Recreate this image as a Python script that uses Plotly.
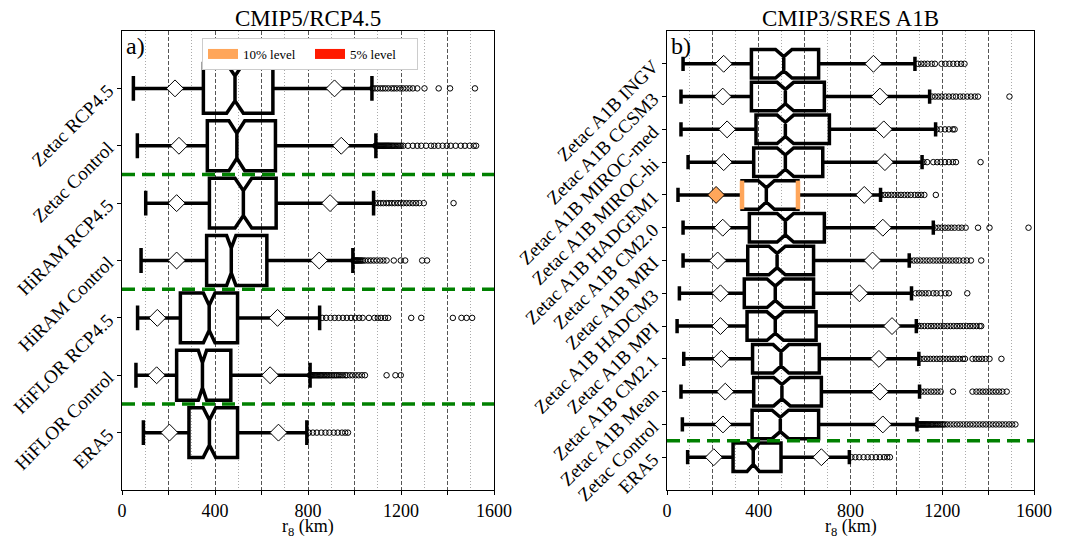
import plotly.graph_objects as go

# ---------------- Panel a: CMIP5/RCP4.5 ----------------
cats_a = ["Zetac RCP4.5", "Zetac Control", "HiRAM RCP4.5", "HiRAM Control",
          "HiFLOR RCP4.5", "HiFLOR Control", "ERA5"]
groups_a = ["Zetac", "Zetac", "HiRAM", "HiRAM", "HiFLOR", "HiFLOR", "ERA5"]
lo_a = [49, 66, 102, 82, 67, 60, 92]
plo_a = [228, 245, 235, 235, 152, 149, 204]
q1_a = [350, 367, 376, 364, 251, 235, 288]
med_a = [486, 494, 522, 470, 375, 346, 376]
notch_a = [36, 34, 36, 20, 25, 18, 27]
q3_a = [649, 660, 663, 623, 497, 468, 497]
phi_a = [914, 943, 895, 848, 669, 637, 673]
hi_a = [1075, 1092, 1082, 993, 850, 809, 795]
boxsig_a = [0, 0, 0, 0, 0, 0, 0]
plosig_a = [0, 0, 0, 0, 0, 0, 0]
phisig_a = [0, 0, 0, 0, 0, 0, 0]
out_a = [
    [1077, 1088, 1099, 1111, 1122, 1133, 1145, 1159, 1170, 1182, 1196, 1209, 1223, 1237, 1251,
     1270, 1301, 1362, 1411, 1518],
    [1090, 1094, 1098, 1102, 1106, 1110, 1114, 1118, 1122, 1126, 1130, 1134, 1138, 1142, 1146,
     1150, 1155, 1160, 1165, 1170, 1176, 1182, 1188, 1195, 1201, 1210, 1230, 1251, 1270, 1287,
     1308, 1329, 1343, 1360, 1379, 1397, 1414, 1435, 1457, 1475, 1495, 1513, 1523],
    [1088, 1102, 1113, 1124, 1137, 1148, 1161, 1173, 1187, 1199, 1211, 1224, 1237, 1251, 1265,
     1279, 1298, 1426],
    [995, 999, 1003, 1007, 1011, 1015, 1020, 1025, 1030, 1036, 1045, 1058, 1070, 1083, 1096,
     1110, 1124, 1138, 1169, 1199, 1218, 1291, 1312],
    [861, 878, 897, 915, 932, 950, 967, 985, 1003, 1020, 1035, 1062, 1086, 1100, 1114, 1131,
     1145, 1244, 1287, 1423, 1460, 1482, 1506],
    [808, 812, 816, 820, 825, 830, 835, 840, 845, 850, 855, 860, 866, 872, 878, 884, 890, 897,
     904, 911, 918, 925, 933, 941, 950, 960, 967, 980, 992, 1005, 1018, 1032, 1045, 1138, 1176,
     1199],
    [804, 821, 838, 857, 875, 892, 911, 928, 946, 960, 972],
]

# ---------------- Panel b: CMIP3/SRES A1B ----------------
cats_b = ["Zetac A1B INGV", "Zetac A1B CCSM3", "Zetac A1B MIROC-med", "Zetac A1B MIROC-hi",
          "Zetac A1B HADGEM1", "Zetac A1B CM2.0", "Zetac A1B MRI", "Zetac A1B HADCM3",
          "Zetac A1B MPI", "Zetac A1B CM2.1", "Zetac A1B Mean", "Zetac Control", "ERA5"]
groups_b = ["Zetac"] * 12 + ["ERA5"]
lo_b = [70, 61, 61, 92, 48, 70, 70, 54, 44, 73, 61, 67, 90]
plo_b = [247, 243, 262, 247, 214, 243, 221, 233, 233, 237, 254, 244, 204]
q1_b = [368, 368, 388, 378, 327, 359, 352, 337, 349, 373, 378, 371, 288]
med_b = [509, 516, 516, 516, 433, 516, 480, 472, 472, 497, 501, 494, 376]
notch_b = [36, 36, 36, 36, 35, 36, 36, 36, 36, 34, 36, 36, 27]
q3_b = [661, 686, 708, 679, 571, 686, 639, 639, 650, 664, 673, 661, 497]
phi_b = [900, 928, 945, 950, 860, 941, 896, 839, 981, 924, 928, 941, 673]
hi_b = [1081, 1145, 1171, 1112, 931, 1161, 1056, 1066, 1087, 1098, 1101, 1090, 795]
boxsig_b = [0, 0, 0, 0, 10, 0, 0, 0, 0, 0, 0, 0, 0]
plosig_b = [0, 0, 0, 0, 10, 0, 0, 0, 0, 0, 0, 0, 0]
phisig_b = [0] * 13
out_b = [
    [1094, 1108, 1122, 1136, 1154, 1168, 1197, 1214, 1231, 1248, 1265, 1282, 1297],
    [1155, 1169, 1183, 1197, 1214, 1229, 1246, 1260, 1278, 1292, 1309, 1325, 1342, 1356, 1493],
    [1176, 1193, 1212, 1229, 1246, 1254],
    [1118, 1134, 1161, 1178, 1193, 1212, 1229, 1246, 1260, 1367],
    [935, 950, 964, 978, 992, 1006, 1020, 1035, 1049, 1063, 1080, 1094, 1108, 1122, 1172],
    [1169, 1183, 1197, 1212, 1226, 1240, 1254, 1271, 1285, 1302, 1356, 1406, 1576],
    [1061, 1076, 1090, 1104, 1118, 1132, 1146, 1161, 1175, 1189, 1203, 1217, 1231, 1245, 1260,
     1274, 1292, 1307, 1325, 1370],
    [1084, 1098, 1112, 1127, 1141, 1161, 1175, 1193, 1214, 1229, 1309],
    [1094, 1108, 1122, 1137, 1151, 1165, 1179, 1193, 1207, 1222, 1236, 1250, 1264, 1278, 1292,
     1307, 1321, 1335, 1349, 1363, 1370],
    [1105, 1120, 1134, 1148, 1162, 1176, 1190, 1205, 1219, 1233, 1247, 1261, 1275, 1290, 1299,
     1332, 1346, 1360, 1374, 1389, 1406, 1458],
    [1108, 1122, 1136, 1151, 1165, 1179, 1193, 1247, 1332, 1349, 1363, 1377, 1391, 1406, 1420,
     1434, 1448, 1462, 1481],
    [1092, 1096, 1100, 1104, 1108, 1112, 1116, 1120, 1124, 1128, 1132, 1136, 1140, 1145, 1150,
     1155, 1160, 1166, 1172, 1178, 1184, 1190, 1197, 1204, 1211, 1222, 1236, 1250, 1264, 1278,
     1292, 1307, 1321, 1335, 1349, 1363, 1377, 1391, 1406, 1420, 1434, 1448, 1462, 1476, 1491,
     1505, 1519],
    [804, 821, 838, 857, 875, 892, 911, 928, 946, 960, 972],
]

xtick_vals = [0, 200, 400, 600, 800, 1000, 1200, 1400, 1600]
xtick_text = ["0", "", "400", "", "800", "", "1200", "", "1600"]

# ---------------- styling ----------------
FONT = "Liberation Serif"
ORANGE = "#ffa65a"
RED = "#ff1a00"
SIGCOL = {0: "black", 10: ORANGE, 5: RED}
DIAFILL = {0: "white", 10: ORANGE, 5: RED}
BOXW = 0.87

fig = go.Figure()


def add_panel(xa, ya, cats, groups, lo, plo, q1, med, notch, q3, phi, hi,
              boxsig, plosig, phisig, outs):
    n = len(cats)
    pos = [n - i for i in range(n)]
    xr = "x" if xa == 1 else "x%d" % xa
    yr = "y" if ya == 1 else "y%d" % ya
    fig.add_trace(go.Box(
        orientation="h", y=pos, q1=q1, median=med, q3=q3,
        lowerfence=lo, upperfence=hi, notched=True, notchspan=notch,
        notchwidth=0.25, width=BOXW, whiskerwidth=0.5, boxpoints=False,
        line=dict(color="black", width=3.5), fillcolor="rgba(0,0,0,0)",
        xaxis=xr, yaxis=yr, showlegend=False, hoverinfo="skip"))
    for i in range(n):
        if boxsig[i]:
            for v in (q1[i], q3[i]):
                fig.add_trace(go.Scatter(
                    x=[v, v], y=[pos[i] - BOXW / 2, pos[i] + BOXW / 2], mode="lines",
                    line=dict(color=SIGCOL[boxsig[i]], width=4.5),
                    xaxis=xr, yaxis=yr, showlegend=False, hoverinfo="skip"))
    fig.add_trace(go.Scatter(
        x=plo + phi, y=pos + pos, mode="markers",
        marker=dict(symbol="diamond", size=13,
                    color=[DIAFILL[s] for s in plosig] + [DIAFILL[s] for s in phisig],
                    line=dict(color="black", width=1)),
        xaxis=xr, yaxis=yr, showlegend=False, hoverinfo="skip"))
    ox, oy = [], []
    for i in range(n):
        ox += outs[i]
        oy += [pos[i]] * len(outs[i])
    fig.add_trace(go.Scatter(
        x=ox, y=oy, mode="markers",
        marker=dict(symbol="circle-open", size=5.5, color="black", line=dict(width=1)),
        xaxis=xr, yaxis=yr, showlegend=False, hoverinfo="skip"))
    for i in range(1, n):
        if groups[i] != groups[i - 1]:
            yb = (pos[i] + pos[i - 1]) / 2
            fig.add_shape(type="line", xref="%s domain" % xr, yref=yr,
                          x0=0, x1=1, y0=yb, y1=yb,
                          line=dict(color="#008000", width=3.5, dash="13px,7px"))
    return pos


pos_a = add_panel(1, 1, cats_a, groups_a, lo_a, plo_a, q1_a, med_a, notch_a, q3_a,
                  phi_a, hi_a, boxsig_a, plosig_a, phisig_a, out_a)
pos_b = add_panel(2, 2, cats_b, groups_b, lo_b, plo_b, q1_b, med_b, notch_b, q3_b,
                  phi_b, hi_b, boxsig_b, plosig_b, phisig_b, out_b)

for name, col in (("10% level", ORANGE), ("5% level", RED)):
    fig.add_trace(go.Scatter(x=[None], y=[None], mode="lines", name=name,
                             line=dict(color=col, width=10), xaxis="x", yaxis="y"))

# page body has an 8px margin: work in page pixels minus 8
OFF = 8
W, H = 1059, 530


def fx(px):
    return (px - OFF) / W


def fy(py):
    return 1 - (py - OFF) / H


dom_y = [fy(490), fy(31)]


def xaxis(dom, anchor):
    return dict(domain=dom, anchor=anchor, range=[0, 1600], tickmode="array",
                tickvals=xtick_vals, ticktext=xtick_text, ticks="outside", ticklen=4,
                tickcolor="black", showline=True, linecolor="black", linewidth=1.2,
                mirror=True, showgrid=True, gridcolor="#555", griddash="4px,2px",
                gridwidth=1, zeroline=False,
                minor=dict(tick0=100, dtick=200, showgrid=True, gridcolor="#aaa",
                           griddash="1px,2px", gridwidth=1, ticks=""),
                tickfont=dict(size=18), automargin=False)


def yaxis(anchor, cats, pos):
    return dict(domain=dom_y, anchor=anchor, range=[0, len(cats) + 1],
                tickmode="array", tickvals=pos, ticktext=cats, tickangle=-45,
                ticks="outside", ticklen=4, tickcolor="black", showline=True,
                linecolor="black", linewidth=1.2, mirror=True, showgrid=False,
                zeroline=False, tickfont=dict(size=19), automargin=False,
                ticklabelstandoff=5)


def note(text, xref, x, y, size, **kw):
    return dict(text=text, xref=xref, yref="paper", x=x, y=y, showarrow=False,
                font=dict(size=size), **kw)


fig.update_layout(
    width=W, height=H, margin=dict(l=0, r=0, t=0, b=0),
    paper_bgcolor="white", plot_bgcolor="white",
    font=dict(family=FONT, color="black"),
    boxmode="overlay",
    xaxis=xaxis([fx(122), fx(494)], "y"),
    yaxis=yaxis("x", cats_a, pos_a),
    xaxis2=xaxis([fx(667), fx(1034)], "y2"),
    yaxis2=yaxis("x2", cats_b, pos_b),
    legend=dict(orientation="h", x=fx(202), y=fy(38), xanchor="left", yanchor="top",
                bgcolor="white", bordercolor="#cccccc", borderwidth=1,
                font=dict(size=13), itemwidth=30, entrywidthmode="pixels", entrywidth=62),
    annotations=[
        note("CMIP5/RCP4.5", "x domain", 0.5, fy(19), 23, xanchor="center", yanchor="middle"),
        note("CMIP3/SRES A1B", "x2 domain", 0.5, fy(19), 23, xanchor="center",
             yanchor="middle"),
        note("r<sub>8</sub> (km)", "x domain", 0.5, fy(514), 18, xanchor="center",
             yanchor="top"),
        note("r<sub>8</sub> (km)", "x2 domain", 0.5, fy(514), 18, xanchor="center",
             yanchor="top"),
        dict(text="a)", xref="x domain", yref="y domain", x=0.005, y=1.0,
             showarrow=False, font=dict(size=24), xanchor="left", yanchor="top"),
        dict(text="b)", xref="x2 domain", yref="y2 domain", x=0.005, y=1.0,
             showarrow=False, font=dict(size=24), xanchor="left", yanchor="top"),
    ],
)

fig.write_html("out.html")
